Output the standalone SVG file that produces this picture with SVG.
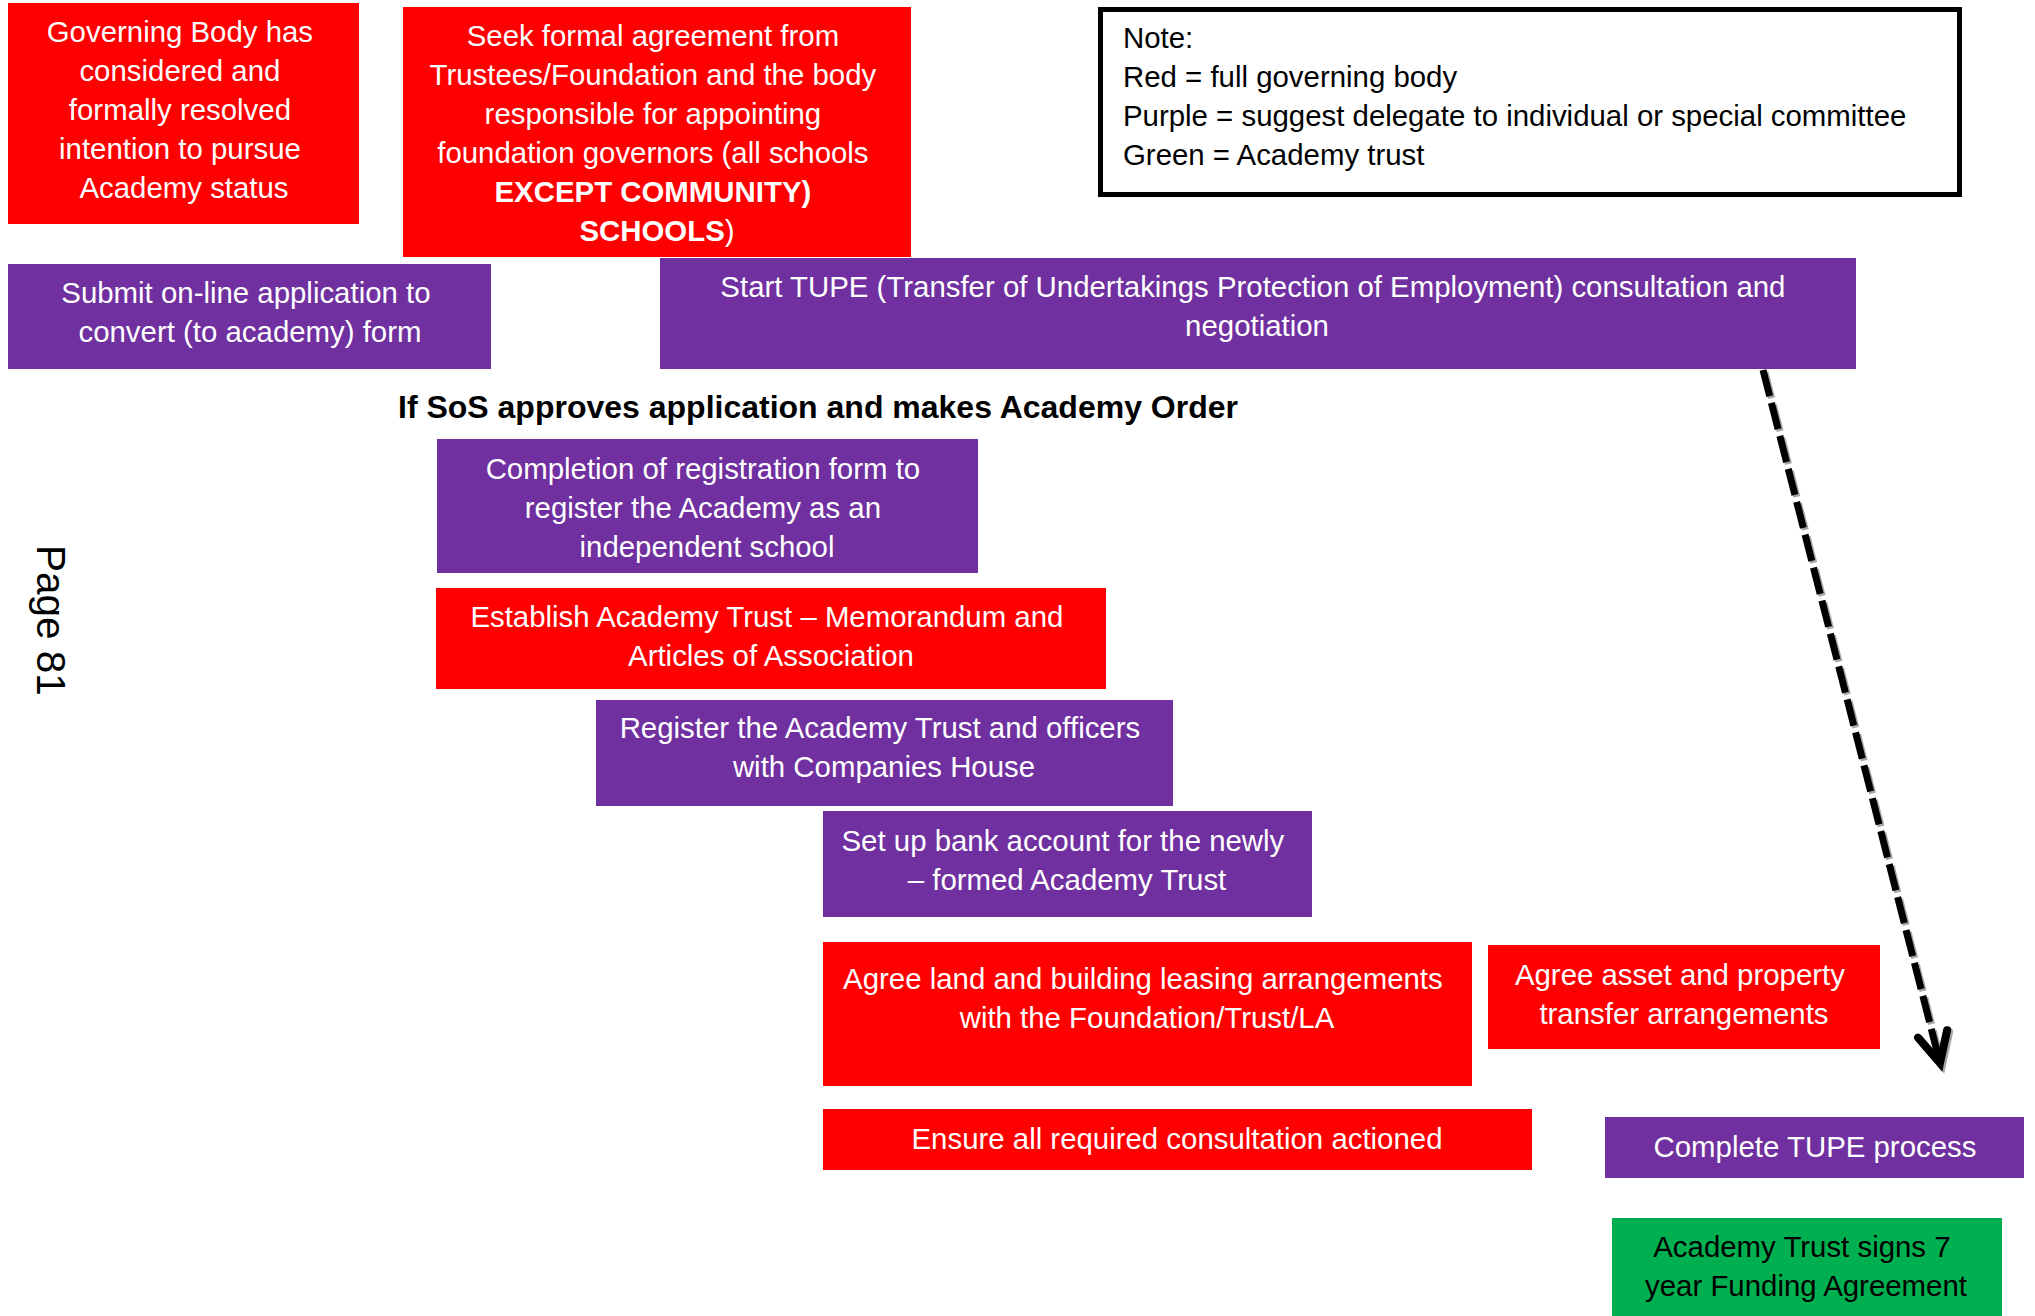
<svg xmlns="http://www.w3.org/2000/svg" width="2035" height="1316" viewBox="0 0 2035 1316">
  <style>
    .red{fill:#FF0000}
    .purple{fill:#7030A0}
    .green{fill:#00B050}
    .t{font-family:"Liberation Sans",Arial,sans-serif;font-size:29.4px;fill:#FFFFFF;text-anchor:middle}
    .t.dark{fill:#000000}
    .b{font-weight:bold}
    .note{fill:#FFFFFF;stroke:#000000;stroke-width:5}
    .nt{font-family:"Liberation Sans",Arial,sans-serif;font-size:29.4px;fill:#000000}
    .head{font-family:"Liberation Sans",Arial,sans-serif;font-size:32px;font-weight:bold;fill:#000000}
    .page{font-family:"Liberation Sans",Arial,sans-serif;font-size:40.5px;fill:#000000}
    .dash{fill:none;stroke-width:7;stroke-dasharray:27 7}
  </style>
  <defs>
    <marker id="chev" markerUnits="userSpaceOnUse" viewBox="-40 -25 50 50" markerWidth="50" markerHeight="50" refX="0" refY="0" orient="auto" overflow="visible">
      <path d="M-30,-15 L0,0 L-30,15" fill="none" stroke="#000000" stroke-width="8" stroke-linecap="round" stroke-linejoin="miter"/>
    </marker>
    <marker id="chev-shadow" markerUnits="userSpaceOnUse" viewBox="-40 -25 50 50" markerWidth="50" markerHeight="50" refX="0" refY="0" orient="auto" overflow="visible">
      <path d="M-30,-15 L0,0 L-30,15" fill="none" stroke="#A6A6A6" stroke-width="8" stroke-linecap="round" stroke-linejoin="miter"/>
    </marker>
  </defs>

  <rect width="2035" height="1316" fill="#FFFFFF"/>

  <!-- margin page number, rotated to read downwards -->
  <text class="page" transform="translate(37,545) rotate(90)">Page 81</text>

  <g id="governing-body">
    <rect class="red" x="8" y="3" width="351" height="221"/>
    <text class="t">
      <tspan x="184" y="42">Governing Body has</tspan>
      <tspan x="184" y="81">considered and</tspan>
      <tspan x="184" y="120">formally resolved</tspan>
      <tspan x="184" y="159">intention to pursue</tspan>
      <tspan x="184" y="198">Academy status</tspan>
    </text>
  </g>

  <g id="seek-agreement">
    <rect class="red" x="403" y="7" width="508" height="250"/>
    <text class="t">
      <tspan x="657" y="46">Seek formal agreement from</tspan>
      <tspan x="657" y="85">Trustees/Foundation and the body</tspan>
      <tspan x="657" y="124">responsible for appointing</tspan>
      <tspan x="657" y="163">foundation governors (all schools</tspan>
      <tspan x="657" y="202" class="b">EXCEPT COMMUNITY)</tspan>
      <tspan x="657" y="241"><tspan class="b">SCHOOLS</tspan>)</tspan>
    </text>
  </g>

  <g id="legend">
    <rect class="note" x="1100.5" y="9.5" width="859" height="185"/>
    <text class="nt">
      <tspan x="1123" y="48">Note:</tspan>
      <tspan x="1123" y="87">Red = full governing body</tspan>
      <tspan x="1123" y="126">Purple = suggest delegate to individual or special committee</tspan>
      <tspan x="1123" y="165">Green = Academy trust</tspan>
    </text>
  </g>

  <g id="submit-application">
    <rect class="purple" x="8" y="264" width="483" height="105"/>
    <text class="t">
      <tspan x="250" y="303">Submit on-line application to</tspan>
      <tspan x="250" y="342">convert (to academy) form</tspan>
    </text>
  </g>

  <g id="start-tupe">
    <rect class="purple" x="660" y="258" width="1196" height="111"/>
    <text class="t">
      <tspan x="1257" y="297">Start TUPE (Transfer of Undertakings Protection of Employment) consultation and</tspan>
      <tspan x="1257" y="336">negotiation</tspan>
    </text>
  </g>

  <text id="academy-order-heading" class="head" x="398" y="418">If SoS approves application and makes Academy Order</text>

  <g id="registration-form">
    <rect class="purple" x="437" y="439" width="541" height="134"/>
    <text class="t">
      <tspan x="707" y="479">Completion of registration form to</tspan>
      <tspan x="707" y="518">register the Academy as an</tspan>
      <tspan x="707" y="557">independent school</tspan>
    </text>
  </g>

  <g id="establish-trust">
    <rect class="red" x="436" y="588" width="670" height="101"/>
    <text class="t">
      <tspan x="771" y="627">Establish Academy Trust – Memorandum and</tspan>
      <tspan x="771" y="666">Articles of Association</tspan>
    </text>
  </g>

  <g id="companies-house">
    <rect class="purple" x="596" y="700" width="577" height="106"/>
    <text class="t">
      <tspan x="884" y="738">Register the Academy Trust and officers</tspan>
      <tspan x="884" y="777">with Companies House</tspan>
    </text>
  </g>

  <g id="bank-account">
    <rect class="purple" x="823" y="811" width="489" height="106"/>
    <text class="t">
      <tspan x="1067" y="851">Set up bank account for the newly</tspan>
      <tspan x="1067" y="890">– formed Academy Trust</tspan>
    </text>
  </g>

  <g id="land-leasing">
    <rect class="red" x="823" y="942" width="649" height="144"/>
    <text class="t">
      <tspan x="1147" y="989">Agree land and building leasing arrangements</tspan>
      <tspan x="1147" y="1028">with the Foundation/Trust/LA</tspan>
    </text>
  </g>

  <g id="asset-transfer">
    <rect class="red" x="1488" y="945" width="392" height="104"/>
    <text class="t">
      <tspan x="1684" y="985">Agree asset and property</tspan>
      <tspan x="1684" y="1024">transfer arrangements</tspan>
    </text>
  </g>

  <g id="consultation">
    <rect class="red" x="823" y="1109" width="709" height="61"/>
    <text class="t" x="1177" y="1149">Ensure all required consultation actioned</text>
  </g>

  <g id="complete-tupe">
    <rect class="purple" x="1605" y="1117" width="419" height="61"/>
    <text class="t" x="1815" y="1157">Complete TUPE process</text>
  </g>

  <g id="funding-agreement">
    <rect class="green" x="1612" y="1218" width="390" height="98"/>
    <text class="t dark">
      <tspan x="1806" y="1257">Academy Trust signs 7</tspan>
      <tspan x="1806" y="1296">year Funding Agreement</tspan>
    </text>
  </g>

  <!-- dashed TUPE arrow with a soft drop shadow -->
  <g id="connectors">
    <line class="dash" x1="1765" y1="372" x2="1942" y2="1065" stroke="#A6A6A6" marker-end="url(#chev-shadow)"/>
    <line class="dash" x1="1763" y1="370" x2="1940" y2="1063" stroke="#000000" marker-end="url(#chev)"/>
  </g>
</svg>
